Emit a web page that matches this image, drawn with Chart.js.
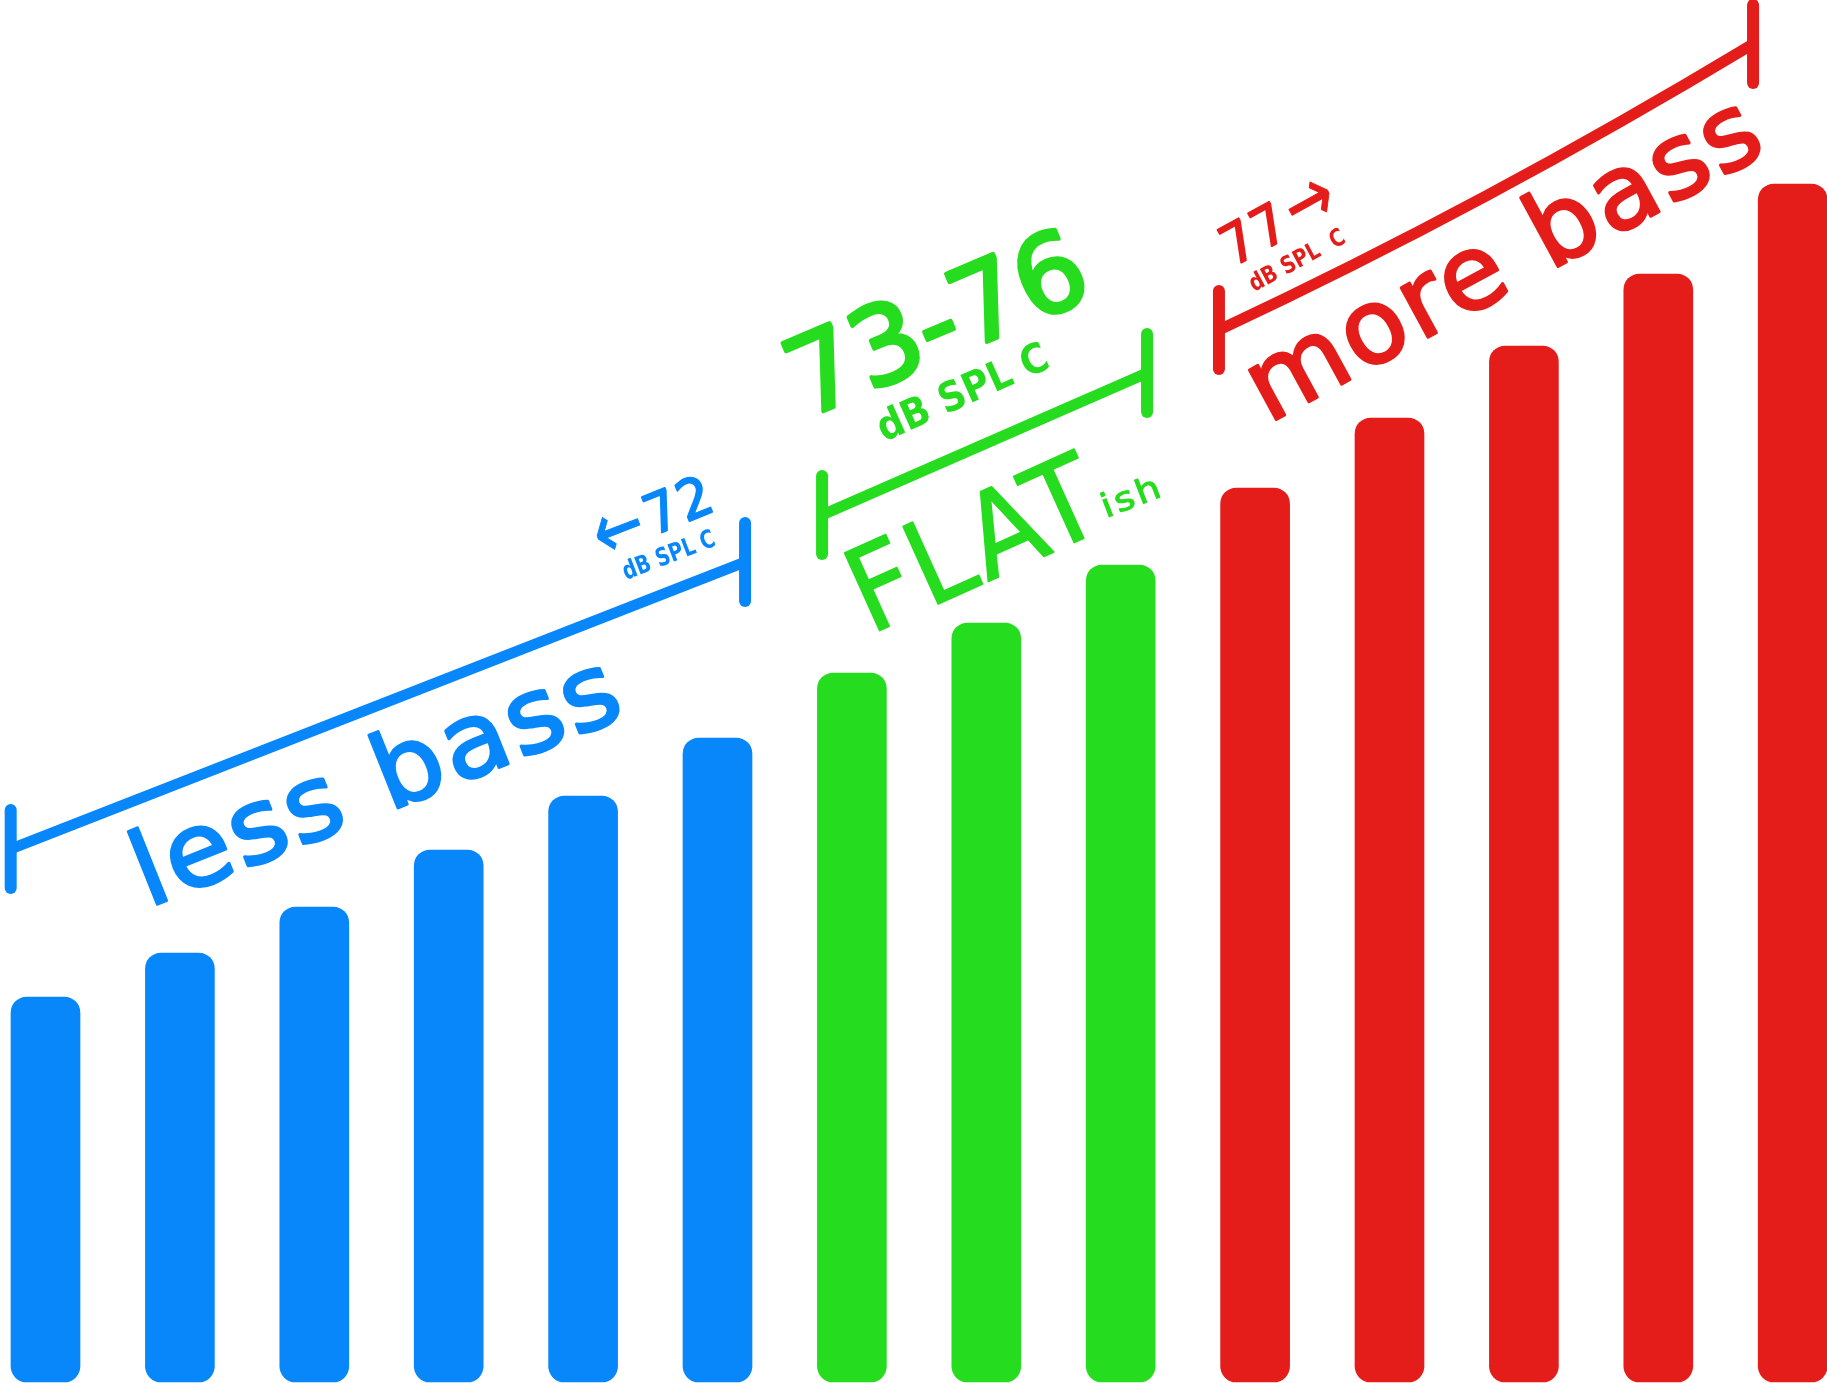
<!DOCTYPE html>
<html>
<head>
<meta charset="utf-8">
<script src="https://cdn.jsdelivr.net/npm/chart.js@4.4.1/dist/chart.umd.min.js"></script>
<style>
  html, body { margin: 0; padding: 0; background: #fff; overflow: hidden; }
  #wrap { width: 1827px; height: 1383px; position: relative; }
</style>
</head>
<body>
<div id="wrap"><canvas id="bassChart"></canvas></div>
<script>
// --- data (relative bass level per step, arbitrary units) ---
const steps = ['1', '2', '3', '4', '5', '6', '7', '8', '9', '10', '11', '12', '13', '14'];
const levels = [385, 429, 475, 532, 586, 644, 709, 759, 817, 894, 964, 1036, 1108, 1198];
const zones = ['less', 'less', 'less', 'less', 'less', 'less', 'flat', 'flat', 'flat', 'more', 'more', 'more', 'more', 'more'];

const zoneColors = { less: '#0787FA', flat: '#26DC1E', more: '#E41D1A' };

// brackets above each zone: [category index, level] at both ends
const brackets = [
    { zone: 'less', from: [-0.259, 533], to: [5.205, 820], sag: 0 },
    { zone: 'flat', from: [5.778, 867], to: [8.196, 1009], sag: 0 },
    { zone: 'more', from: [8.731, 1052], to: [12.705, 1338], sag: 9 },
];

// labels run along a baseline from -> to (same units as the bars)
const labels = [
    { zone: 'less', text: 'less bass', from: [0.763, 474], to: [4.331, 666] },
    { zone: 'less', text: '←', from: [4.156, 820], to: [4.505, 838] },
    { zone: 'less', text: '72', from: [4.520, 846], to: [4.996, 872] },
    { zone: 'less', text: 'dB SPL C', from: [4.319, 802], to: [4.996, 837] },
    { zone: 'flat', text: '73-76', from: [5.651, 963], to: [7.817, 1086] },
    { zone: 'flat', text: 'dB SPL C', from: [6.239, 940], to: [7.489, 1015] },
    { zone: 'flat', text: 'FLAT', from: [6.135, 747], to: [7.913, 855] },
    { zone: 'flat', text: 'ish', from: [7.891, 864], to: [8.315, 886] },
    { zone: 'more', text: '77', from: [8.836, 1115], to: [9.275, 1147] },
    { zone: 'more', text: '→', from: [9.333, 1146], to: [9.654, 1170] },
    { zone: 'more', text: 'dB SPL  C', from: [8.992, 1090], to: [9.684, 1140] },
    { zone: 'more', text: 'more bass', from: [9.096, 958], to: [12.824, 1230] },
];

// font per label (same order as labels): size px, weight, tracking (em), extra outline px
const labelFonts = [
    { size: 103, weight: 400, track: 0.03, outline: 3 },
    { size: 80, weight: 400, track: 0, outline: 1 },
    { size: 55, weight: 400, track: 0.04, outline: 2 },
    { size: 25, weight: 700, track: 0, outline: 0 },
    { size: 108, weight: 400, track: 0, outline: 4 },
    { size: 41, weight: 700, track: 0, outline: 0 },
    { size: 117, weight: 400, track: 0.02, outline: 1.5 },
    { size: 33, weight: 400, track: 0.08, outline: 1 },
    { size: 55, weight: 400, track: 0.04, outline: 2 },
    { size: 80, weight: 400, track: 0, outline: 1 },
    { size: 24, weight: 700, track: 0, outline: 0 },
    { size: 103, weight: 400, track: 0.03, outline: 3 },
];

// --- plugin: brackets and slanted labels ---
const bracketPlugin = {
    id: 'bassBrackets',
    afterDatasetsDraw(chart, args, opts) {
        const { ctx, scales: { x, y } } = chart;
        const toPx = p => [x.getPixelForValue(p[0]), y.getPixelForValue(p[1])];
        ctx.save();
        ctx.lineCap = 'round';

        brackets.forEach(b => {
            const [x0, y0] = toPx(b.from);
            const [x1, y1] = toPx(b.to);
            ctx.strokeStyle = zoneColors[b.zone];
            ctx.lineWidth = opts.lineWidth;
            ctx.beginPath();
            ctx.moveTo(x0, y0);
            ctx.quadraticCurveTo((x0 + x1) / 2, (y0 + y1) / 2 + 2 * b.sag, x1, y1);
            ctx.stroke();
            ctx.lineWidth = opts.tickWidth;
            [[x0, y0], [x1, y1]].forEach(([tx, ty]) => {
                ctx.beginPath();
                ctx.moveTo(tx, ty - opts.tickHalf);
                ctx.lineTo(tx, ty + opts.tickHalf);
                ctx.stroke();
            });
        });

        labels.forEach((l, i) => {
            const f = labelFonts[i];
            const [x0, y0] = toPx(l.from);
            const [x1, y1] = toPx(l.to);
            const len = Math.hypot(x1 - x0, y1 - y0);
            ctx.font = `${f.weight} ${f.size}px "DejaVu Sans", sans-serif`;
            ctx.letterSpacing = '0px';
            const w = ctx.measureText(l.text).width;
            const n = [...l.text].length;
            const trackPx = f.track * f.size;
            // stretch glyphs sideways so the word spans its bracket like the original
            const stretch = len / (w + Math.max(n - 1, 0) * trackPx);
            ctx.letterSpacing = trackPx.toFixed(2) + 'px';
            ctx.fillStyle = zoneColors[l.zone];
            ctx.strokeStyle = zoneColors[l.zone];
            ctx.lineJoin = 'round';
            ctx.textAlign = 'left';
            ctx.textBaseline = 'alphabetic';
            ctx.save();
            ctx.translate(x0, y0);
            ctx.rotate(Math.atan2(y1 - y0, x1 - x0));
            ctx.scale(stretch, 1);
            ctx.fillText(l.text, 0, 0);
            if (f.outline) {
                ctx.lineWidth = f.outline;
                ctx.strokeText(l.text, 0, 0);
            }
            ctx.restore();
        });
        ctx.restore();
    }
};

new Chart(document.getElementById('bassChart'), {
    type: 'bar',
    data: {
        labels: steps,
        datasets: [{
            data: levels,
            backgroundColor: zones.map(z => zoneColors[z]),
            borderWidth: 0,
            borderRadius: 16,
            borderSkipped: false,
            barThickness: 69,
            clip: false,
        }]
    },
    options: {
        responsive: true,
        maintainAspectRatio: false,
        animation: false,
        layout: { padding: { left: 45.5, right: 34.3, top: 0, bottom: 1 } },
        scales: {
            x: { type: 'category', offset: false, display: false },
            y: { min: 0, max: 1382, display: false }
        },
        plugins: {
            legend: { display: false },
            tooltip: { enabled: false },
            bassBrackets: { lineWidth: 11, tickWidth: 12, tickHalf: 39 }
        }
    },
    plugins: [bracketPlugin]
});
</script>
</body>
</html>
